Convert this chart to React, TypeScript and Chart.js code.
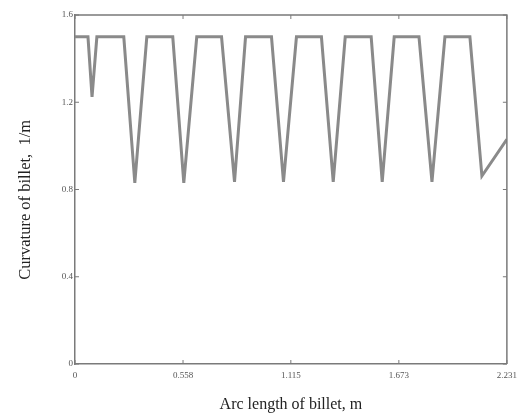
import React, { useEffect, useRef } from "react";
import { Chart, registerables } from "chart.js";

Chart.register(...registerables);

const arcLength = [0, 0.067, 0.088, 0.113, 0.252, 0.309, 0.371, 0.505, 0.562, 0.629, 0.757, 0.824, 0.881, 1.015, 1.077, 1.144, 1.273, 1.334, 1.396, 1.53, 1.587, 1.649, 1.777, 1.844, 1.911, 2.04, 2.102, 2.231];
const curvature = [1.5, 1.5, 1.225, 1.5, 1.5, 0.83, 1.5, 1.5, 0.83, 1.5, 1.5, 0.835, 1.5, 1.5, 0.835, 1.5, 1.5, 0.835, 1.5, 1.5, 0.835, 1.5, 1.5, 0.835, 1.5, 1.5, 0.862, 1.03];
const xTicks = [0, 0.558, 1.115, 1.673, 2.231];
const xTickLabels = ["0", "0.558", "1.115", "1.673", "2.231"];
const yTicks = [0, 0.4, 0.8, 1.2, 1.6];
const yTickLabels = ["0", "0.4", "0.8", "1.2", "1.6"];

const AXIS_COLOR = "#7a7a7a";
const SERIF = "'Liberation Serif', 'DejaVu Serif', serif";

const frameAndTicks = {
  id: "frameAndTicks",
  afterDraw(chart: any) {
    const { ctx, chartArea } = chart;
    const { left, right, top, bottom } = chartArea;
    const xs = chart.scales.x;
    const ys = chart.scales.y;
    ctx.save();
    ctx.strokeStyle = AXIS_COLOR;
    ctx.lineWidth = 1.5;
    ctx.beginPath();
    ctx.moveTo(left, top);
    ctx.lineTo(right, top);
    ctx.lineTo(right, bottom);
    ctx.stroke();
    ctx.lineWidth = 1;
    const len = 4;
    ctx.beginPath();
    xTicks.forEach((v) => {
      const px = xs.getPixelForValue(v);
      ctx.moveTo(px, bottom);
      ctx.lineTo(px, bottom - len);
      ctx.moveTo(px, top);
      ctx.lineTo(px, top + len);
    });
    yTicks.forEach((v) => {
      const py = ys.getPixelForValue(v);
      ctx.moveTo(left, py);
      ctx.lineTo(left + len, py);
      ctx.moveTo(right, py);
      ctx.lineTo(right - len, py);
    });
    ctx.stroke();
    ctx.restore();
  },
};

export default function App() {
  const ref = useRef<HTMLCanvasElement>(null);
  useEffect(() => {
    document.body.style.margin = "0";
    const points = arcLength.map((x, i) => ({ x, y: curvature[i] }));
    const chart = new Chart(ref.current!, {
      type: "line",
      data: {
        datasets: [
          {
            data: points,
            borderColor: "#8a8a8a",
            borderWidth: 3,
            pointRadius: 0,
            tension: 0,
            fill: false,
          },
        ],
      },
      options: {
        responsive: false,
        animation: false,
        layout: { padding: { top: 15, right: 15, left: 0, bottom: 0 } },
        plugins: { legend: { display: false }, tooltip: { enabled: false } },
        scales: {
          x: {
            type: "linear",
            min: 0,
            max: 2.231,
            afterBuildTicks: (scale: any) => {
              scale.ticks = xTicks.map((v) => ({ value: v }));
            },
            afterFit: (scale: any) => {
              scale.height = 51;
            },
            grid: { drawOnChartArea: false, drawTicks: false },
            border: { display: true, color: AXIS_COLOR, width: 1.5 },
            ticks: {
              padding: 6,
              color: "#555",
              font: { family: SERIF, size: 9 },
              maxRotation: 0,
              callback: (v: any) => {
                const i = xTicks.indexOf(Number(v));
                return i >= 0 ? xTickLabels[i] : "";
              },
            },
            title: {
              display: true,
              text: "Arc length of billet, m",
              color: "#222",
              font: { family: SERIF, size: 16 },
              padding: { top: 0, bottom: 1 },
            },
          },
          y: {
            type: "linear",
            min: 0,
            max: 1.6,
            afterBuildTicks: (scale: any) => {
              scale.ticks = yTicks.map((v) => ({ value: v }));
            },
            afterFit: (scale: any) => {
              scale.width = 75;
            },
            grid: { drawOnChartArea: false, drawTicks: false },
            border: { display: true, color: AXIS_COLOR, width: 1.5 },
            ticks: {
              padding: 2,
              color: "#555",
              font: { family: SERIF, size: 9 },
              callback: (v: any) => {
                const i = yTicks.indexOf(Number(v));
                return i >= 0 ? yTickLabels[i] : "";
              },
            },
            title: {
              display: true,
              text: "Curvature of billet,  1/m     ",
              color: "#222",
              font: { family: SERIF, size: 16.5 },
              padding: { top: 16, bottom: 0 },
            },
          },
        },
      },
      plugins: [frameAndTicks],
    });
    return () => chart.destroy();
  }, []);
  return (
    <div style={{ position: "absolute", left: 0, top: 0, background: "#fff" }}>
      <canvas ref={ref} width={523} height={415} style={{ display: "block" }} />
    </div>
  );
}
